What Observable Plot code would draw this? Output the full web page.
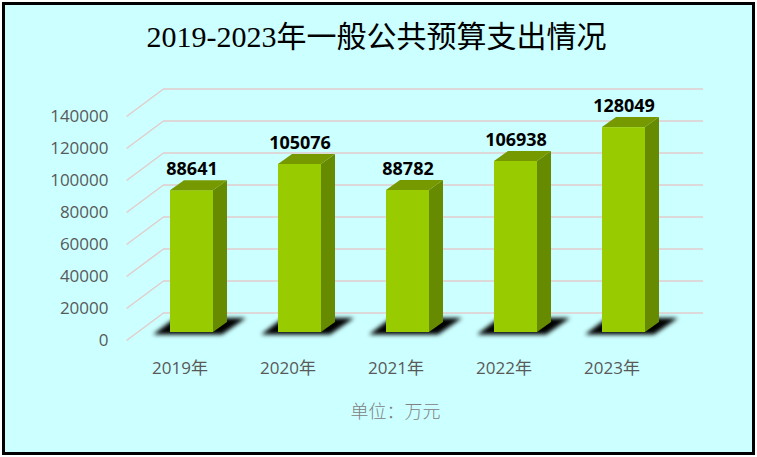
<!DOCTYPE html>
<html>
<head>
<meta charset="utf-8">
<script src="https://cdn.jsdelivr.net/npm/d3@7"></script>
<script src="https://cdn.jsdelivr.net/npm/@observablehq/plot@0.6"></script>
<style>
  html, body { margin: 0; padding: 0; background: #ffffff; }
  #wrap { position: relative; width: 757px; height: 457px; overflow: hidden; background: #ffffff; }
  #panel { position: absolute; left: 2px; top: 2px; width: 753px; height: 453px; box-sizing: border-box; border: 3px solid #000; background: #CCFFFF; }
  #chart { position: absolute; left: 0; top: 0; }
  #title { position: absolute; left: 0; width: 753px; top: 19px; text-align: center;
           font-family: "Liberation Serif", "Noto Sans CJK SC", serif; font-size: 30px; line-height: 36px; color: #000; font-weight: 400; white-space: nowrap; }
  #unit { position: absolute; left: 0; width: 791px; top: 398px; text-align: center;
          font-family: "Noto Sans CJK SC", sans-serif; font-size: 18px; line-height: 24px; color: #808080; font-weight: 300; }
  .shadow { filter: blur(2px); }
</style>
</head>
<body>
<div id="wrap">
  <div id="panel"></div>
  <div id="chart"></div>
  <div id="title">2019-2023年一般公共预算支出情况</div>
  <div id="unit">单位：万元</div>
</div>
<script>
const years = ["2019年", "2020年", "2021年", "2022年", "2023年"];
const values = [88641, 105076, 88782, 106938, 128049];
const yTicks = [0, 20000, 40000, 60000, 80000, 100000, 120000, 140000];

// pixel helpers (scales are linear, so pixel offsets map to constant data offsets)
const xRange = [191.5, 623.5], yDomain = [0, 140000], yRange = [332, 108];
const pxX = p => p / ((xRange[1] - xRange[0]) / 4);
const pxY = p => p / ((yRange[0] - yRange[1]) / (yDomain[1] - yDomain[0]));

const barHalf = pxX(21.5);
const depthX = pxX(14), depthY = pxY(10);
const wallLeft = pxX(163 - 191.5), wallRight = pxX(703 - 191.5), wallDY = pxY(19.5);
const frontLeft = pxX(126 - 191.5), frontDY = pxY(-8);

const bars = values.map((v, i) => ({i, v, year: years[i]}));
const sidePts = bars.flatMap(d => [
  {z: d.i, x: d.i + barHalf, y1: 0, y2: d.v},
  {z: d.i, x: d.i + barHalf + depthX, y1: depthY, y2: d.v + depthY}
]);
const topPts = bars.flatMap(d => [
  {z: d.i, y: d.v, x1: d.i - barHalf, x2: d.i + barHalf},
  {z: d.i, y: d.v + depthY, x1: d.i - barHalf + depthX, x2: d.i + barHalf + depthX}
]);
const shadowPts = bars.flatMap(d => [
  {z: d.i, y: pxY(-2.5), x1: d.i + pxX(-38.5), x2: d.i + pxX(30.5)},
  {z: d.i, y: pxY(14), x1: d.i + pxX(-16.5), x2: d.i + pxX(54.5)}
]);

const gridColor = "#E3CCCC";
const labelFont = "'Open Sans', 'Noto Sans CJK SC', sans-serif";

const chart = Plot.plot({
  width: 757,
  height: 457,
  marginLeft: 111,
  marginRight: 0,
  marginTop: 0,
  marginBottom: 96,
  style: {background: "transparent", fontFamily: labelFont, fontSize: "17px", color: "#595959"},
  x: {type: "linear", domain: [0, 4], range: xRange},
  y: {type: "linear", domain: yDomain, range: yRange},
  marks: [
    Plot.ruleY(yTicks, {y: d => d + wallDY, x1: wallLeft, x2: wallRight, stroke: gridColor, strokeWidth: 1.5}),
    Plot.link(yTicks, {x1: frontLeft, y1: d => d + frontDY, x2: wallLeft, y2: d => d + wallDY, stroke: gridColor, strokeWidth: 1.5}),
    Plot.areaX(shadowPts, {y: "y", x1: "x1", x2: "x2", z: "z", fill: "#000", className: "shadow"}),
    Plot.rect(bars, {x1: d => d.i - barHalf, x2: d => d.i + barHalf, y1: 0, y2: "v", fill: "#99CC00"}),
    Plot.areaY(sidePts, {x: "x", y1: "y1", y2: "y2", z: "z", fill: "#668A00"}),
    Plot.areaX(topPts, {y: "y", x1: "x1", x2: "x2", z: "z", fill: "#779900"}),
    Plot.text(bars, {x: "i", y: "v", text: d => String(d.v), dy: -21, fill: "#000", fontWeight: "bold", fontSize: 18, fontFamily: "'Open Sans', sans-serif"}),
    Plot.axisY(yTicks, {anchor: "left", tickSize: 0, tickPadding: 3, dy: 8, tickFormat: d => String(d), label: null, fill: "#595959", fontSize: 17, fontFamily: labelFont}),
    Plot.axisX([0, 1, 2, 3, 4], {anchor: "bottom", tickSize: 0, tickPadding: 0, dx: -12, tickFormat: i => years[i], label: null, fill: "#595959", fontSize: 17, fontFamily: labelFont})
  ]
});
document.getElementById("chart").appendChild(chart);
</script>
</body>
</html>
